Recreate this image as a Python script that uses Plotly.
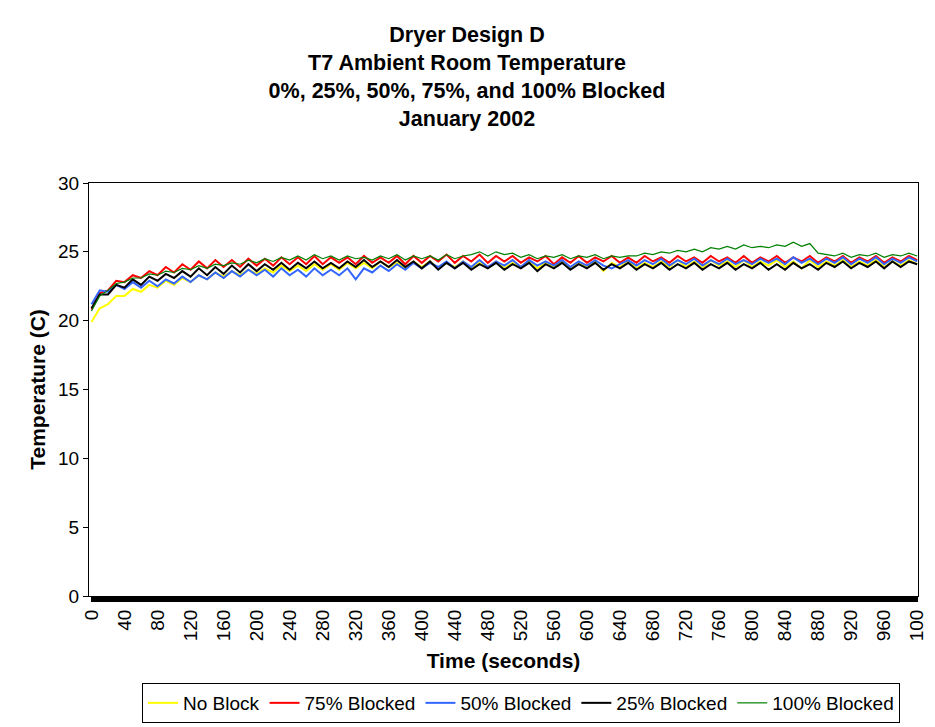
import plotly.graph_objects as go

# sample times (s), every 10 s
time_s = list(range(0, 1001, 10))

no_block = [
    19.9, 20.9, 21.2, 21.8, 21.8, 22.3, 22.1, 22.6, 22.4, 22.9,
    22.6, 23.1, 22.8, 23.3, 23.0, 23.5, 23.2, 23.6, 23.3, 23.7,
    23.4, 23.8, 23.5, 24.0, 23.6, 24.0, 23.6, 24.1, 23.7, 24.1,
    23.7, 24.2, 23.8, 24.2, 23.8, 24.3, 23.9, 24.2, 23.8, 24.3,
    23.9, 24.3, 23.8, 24.2, 23.9, 24.3, 23.8, 24.2, 23.9, 24.3,
    23.8, 24.2, 23.9, 24.3, 23.8, 24.2, 23.9, 24.3, 23.8, 24.2,
    23.9, 24.3, 23.6, 24.2, 23.9, 24.3, 23.8, 24.2, 23.9, 24.3,
    23.9, 24.4, 23.9, 24.3, 23.8, 24.4, 24.0, 24.3, 23.9, 24.4,
    23.9, 24.3, 24.0, 24.4, 23.9, 24.3, 23.8, 24.4, 23.9, 24.3,
    24.0, 24.4, 23.9, 24.3, 24.0, 24.4, 23.9, 24.3, 24.0, 24.4,
    24.1,
]
blocked_75 = [
    20.8, 22.0, 22.2, 22.9, 22.8, 23.3, 23.1, 23.6, 23.3, 23.9,
    23.5, 24.1, 23.7, 24.3, 23.8, 24.4, 23.9, 24.4, 23.9, 24.5,
    24.0, 24.5, 24.0, 24.6, 24.1, 24.6, 24.1, 24.7, 24.1, 24.6,
    24.2, 24.6, 24.1, 24.7, 24.2, 24.6, 24.2, 24.7, 24.1, 24.7,
    24.2, 24.7, 24.3, 24.8, 24.2, 24.7, 24.3, 24.8, 24.2, 24.7,
    24.3, 24.7, 24.2, 24.6, 24.3, 24.7, 24.1, 24.6, 24.2, 24.7,
    24.2, 24.6, 24.3, 24.7, 24.2, 24.6, 24.2, 24.7, 24.3, 24.6,
    24.2, 24.7, 24.3, 24.6, 24.2, 24.7, 24.3, 24.6, 24.2, 24.7,
    24.2, 24.6, 24.3, 24.7, 24.2, 24.6, 24.3, 24.7, 24.2, 24.6,
    24.3, 24.7, 24.2, 24.6, 24.3, 24.7, 24.2, 24.6, 24.3, 24.7,
    24.4,
]
blocked_50 = [
    21.2, 22.2, 22.1, 22.6, 22.3, 22.8, 22.4, 22.9, 22.5, 23.0,
    22.7, 23.2, 22.8, 23.3, 23.0, 23.5, 23.1, 23.6, 23.2, 23.7,
    23.3, 23.7, 23.2, 23.8, 23.3, 23.7, 23.2, 23.8, 23.3, 23.7,
    23.3, 23.8, 23.0, 23.8, 23.5, 24.0, 23.6, 24.1, 23.7, 24.2,
    23.8, 24.2, 23.9, 24.3, 23.8, 24.3, 23.9, 24.4, 23.9, 24.3,
    24.0, 24.4, 23.9, 24.4, 24.0, 24.3, 24.0, 24.4, 23.9, 24.3,
    24.0, 24.4, 24.0, 23.8, 24.1, 24.4, 24.0, 24.4, 24.1, 24.5,
    24.0, 24.4, 24.1, 24.5, 24.0, 24.4, 24.1, 24.5, 24.1, 24.4,
    24.1, 24.5, 24.2, 24.5, 24.1, 24.6, 24.2, 24.5, 24.1, 24.5,
    24.2, 24.6, 24.1, 24.5, 24.2, 24.6, 24.1, 24.5, 24.2, 24.6,
    24.3,
]
blocked_25 = [
    20.9, 21.9, 21.9, 22.6, 22.4, 23.0, 22.6, 23.2, 22.9, 23.4,
    23.1, 23.6, 23.2, 23.8, 23.3, 23.9, 23.4, 24.0, 23.5, 24.1,
    23.6, 24.1, 23.7, 24.2, 23.7, 24.2, 23.8, 24.3, 23.8, 24.2,
    23.8, 24.3, 23.9, 24.4, 23.9, 24.3, 23.9, 24.4, 23.9, 24.3,
    23.8, 24.3, 23.7, 24.2, 23.8, 24.2, 23.7, 24.1, 23.8, 24.2,
    23.7, 24.1, 23.8, 24.2, 23.6, 24.1, 23.8, 24.2, 23.7, 24.1,
    23.8, 24.2, 23.7, 24.1, 23.8, 24.2, 23.7, 24.1, 23.8, 24.2,
    23.7, 24.1, 23.8, 24.2, 23.7, 24.1, 23.8, 24.2, 23.7, 24.1,
    23.8, 24.2, 23.7, 24.1, 23.7, 24.2, 23.8, 24.1, 23.7, 24.2,
    23.9, 24.3, 23.8, 24.2, 23.9, 24.3, 23.8, 24.3, 23.9, 24.3,
    24.1,
]
blocked_100 = [
    20.7, 21.8, 22.2, 22.7, 22.8, 23.1, 23.1, 23.4, 23.3, 23.6,
    23.5, 23.8, 23.7, 24.0, 23.8, 24.1, 24.0, 24.2, 24.1, 24.4,
    24.2, 24.5, 24.3, 24.6, 24.4, 24.7, 24.4, 24.8, 24.5, 24.7,
    24.4, 24.7, 24.5, 24.6, 24.4, 24.7, 24.5, 24.8, 24.4, 24.7,
    24.5, 24.7, 24.4, 24.8, 24.5, 24.7, 24.8, 25.0, 24.7, 25.0,
    24.8, 24.9, 24.6, 24.8, 24.5, 24.7, 24.6, 24.8, 24.5, 24.7,
    24.6, 24.8, 24.5, 24.7, 24.6, 24.7, 24.7, 24.9, 24.8, 25.0,
    24.9, 25.1, 25.0, 25.2, 25.0, 25.3, 25.2, 25.4, 25.2, 25.5,
    25.3, 25.4, 25.3, 25.5, 25.4, 25.7, 25.4, 25.6, 24.9, 24.8,
    24.7, 24.9, 24.6, 24.8, 24.7, 24.9, 24.6, 24.8, 24.7, 24.9,
    24.7,
]

# category ticks every second, labels every 40 s (last label clipped to "100")
x_tick_vals = list(range(0, 1001, 1))
x_label_vals = list(range(0, 1001, 40))
x_label_text = [str(v) for v in range(0, 961, 40)] + ['100']
x_tick_text = [x_label_text[x_label_vals.index(v)] if v in x_label_vals else ''
               for v in x_tick_vals]

series = [
    ('No Block', no_block, '#FFFF00', 2),
    ('75% Blocked', blocked_75, '#FF0000', 2),
    ('50% Blocked', blocked_50, '#3366FF', 2),
    ('25% Blocked', blocked_25, '#000000', 2),
    ('100% Blocked', blocked_100, '#008000', 1.2),
]

FONT = 'Arial, Liberation Sans, sans-serif'
W, H = 927, 719  # page body adds an 8px offset

fig = go.Figure()
for name, vals, color, w in series:
    fig.add_trace(go.Scatter(x=time_s, y=vals, mode='lines', name=name,
                             line=dict(color=color, width=w)))

fig.update_layout(
    width=W, height=H, autosize=False,
    paper_bgcolor='white', plot_bgcolor='white',
    margin=dict(l=81, r=17, t=175, b=131),
    font=dict(family=FONT, size=19, color='black'),
    title=dict(
        text='Dryer Design D<br>T7 Ambient Room Temperature<br>'
             '0%, 25%, 50%, 75%, and 100% Blocked<br>January 2002',
        x=(467 - 8) / W, xanchor='center', y=1 - 34 / H, yanchor='top',
        font=dict(size=21.5, weight='bold', family=FONT),
    ),
    showlegend=True,
    legend=dict(
        orientation='h', xref='container', yref='container',
        x=(521 - 8) / W, xanchor='center', y=1 - (703 - 8) / H, yanchor='middle',
        bordercolor='black', borderwidth=1, font=dict(size=19),
        traceorder='normal',
    ),
    xaxis=dict(
        range=[-3, 1001], showgrid=False, zeroline=False, automargin=False,
        showline=True, linecolor='black', linewidth=1, mirror=True,
        tickmode='array', tickvals=x_tick_vals, ticktext=x_tick_text,
        tickangle=-90, ticks='outside', ticklen=5, tickcolor='black',
        tickwidth=1, tickfont=dict(size=19),
        title=dict(text='Time (seconds)', font=dict(size=21, weight='bold'),
                   standoff=12),
    ),
    yaxis=dict(
        range=[0, 30], dtick=5, showgrid=False, zeroline=False, automargin=False,
        showline=True, linecolor='black', linewidth=1, mirror=True,
        ticks='outside', ticklen=5, tickcolor='black', tickfont=dict(size=19),
        title=dict(text='Temperature (C)', font=dict(size=21, weight='bold'),
                   standoff=6),
    ),
)

fig.write_html('out.html')
